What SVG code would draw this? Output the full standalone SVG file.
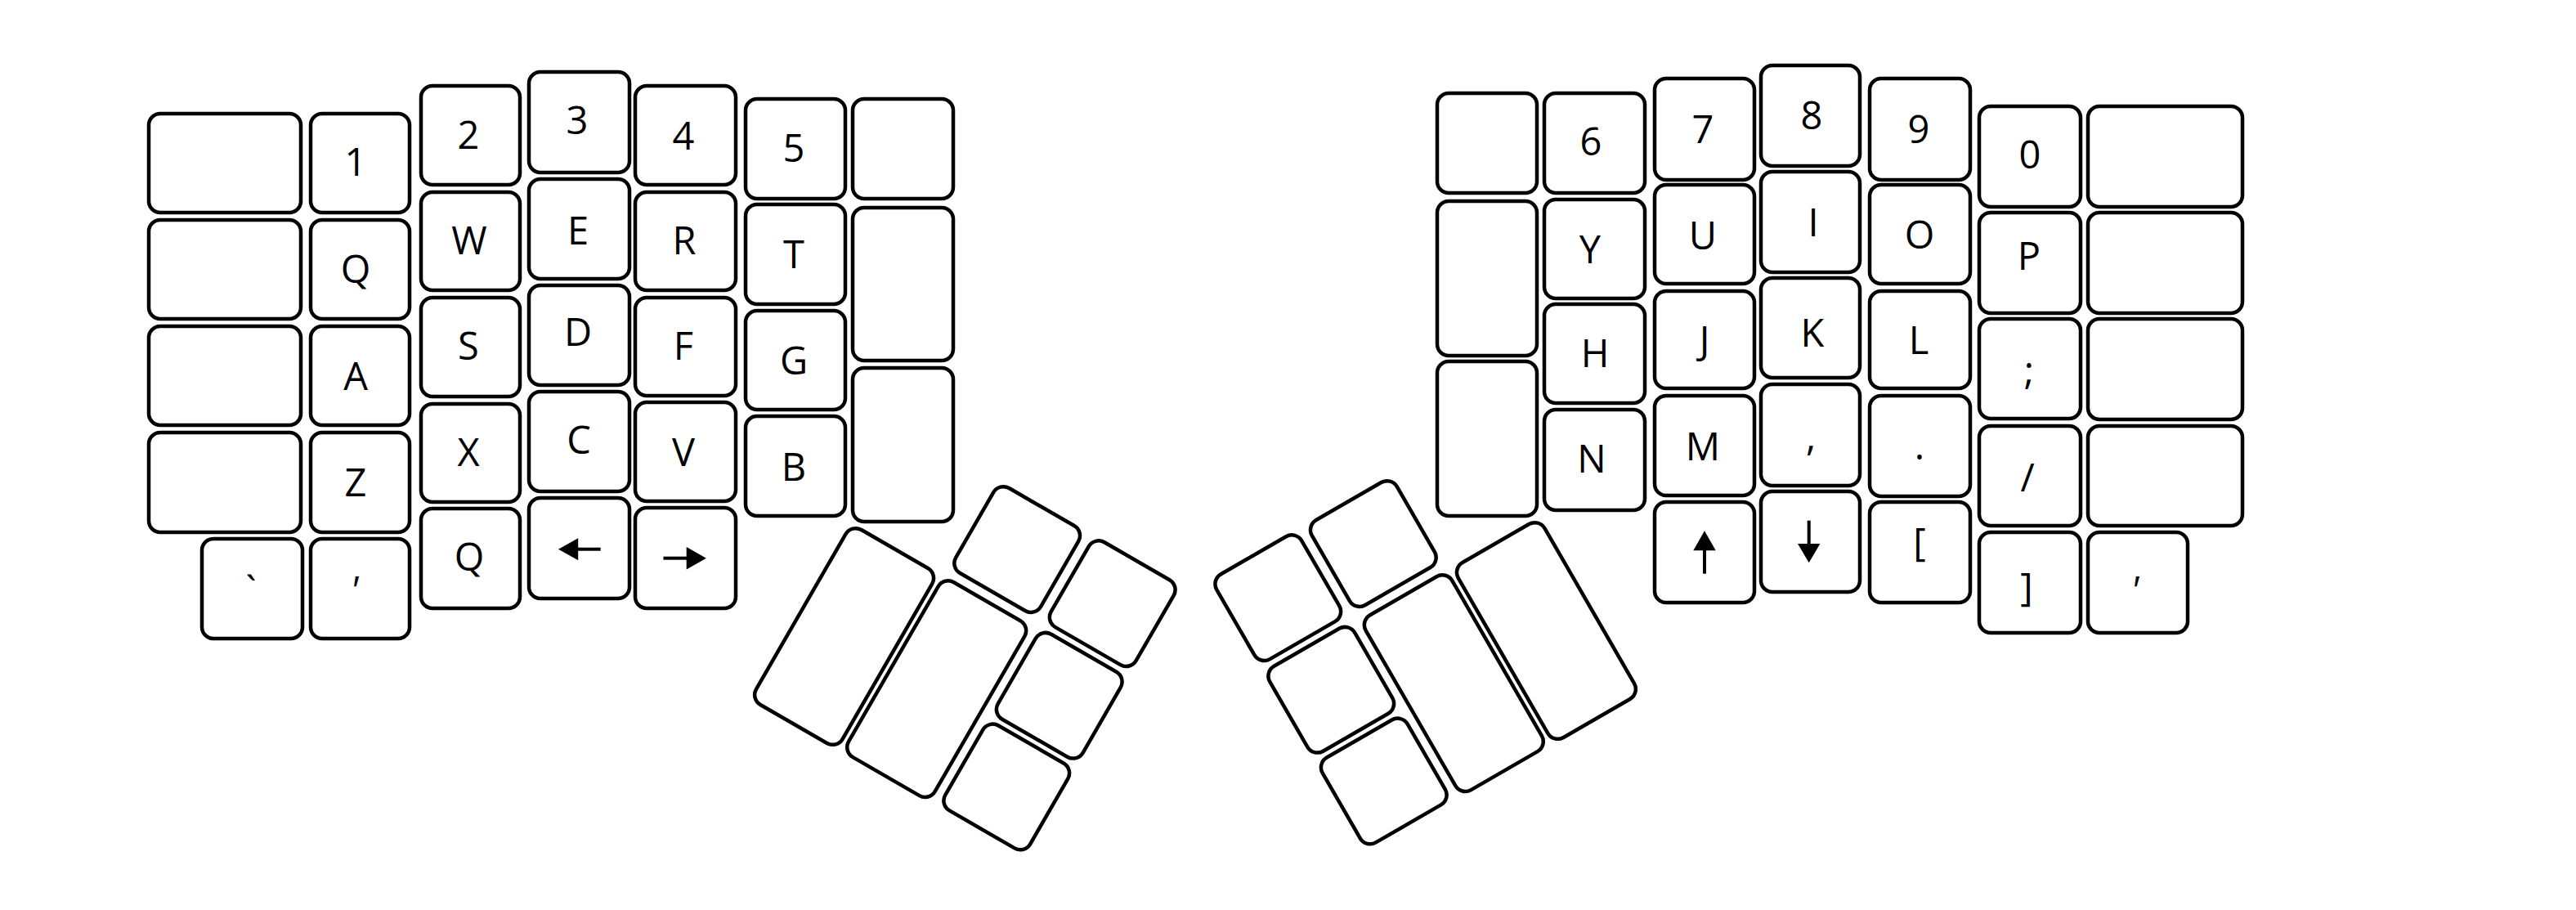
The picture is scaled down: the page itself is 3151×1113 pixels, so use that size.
<svg xmlns="http://www.w3.org/2000/svg" width="3151" height="1113" viewBox="0 0 3151 1113">
<style>
.k{fill:#fff;stroke:#000;stroke-width:4.5}
.l{font-family:"Open Sans","Noto Sans","Liberation Sans",sans-serif;font-size:47px;text-anchor:middle;fill:#000}
.i{font-style:italic}
.ar{stroke:#000;stroke-width:4;fill:none}
.ah{fill:#000}
</style>
<rect width="3151" height="1113" fill="#fff"/>
<g id="left-hand">
<g id="L-w1"><rect class="k" x="182" y="139" width="186" height="121" rx="14"/></g>
<g id="L-w2"><rect class="k" x="182" y="269" width="186" height="121" rx="14"/></g>
<g id="L-w3"><rect class="k" x="182" y="399" width="186" height="121" rx="14"/></g>
<g id="L-w4"><rect class="k" x="182" y="529" width="186" height="122" rx="14"/></g>
<g id="key-grave"><rect class="k" x="247" y="659" width="123" height="122" rx="14"/><text class="l" x="307" y="739">`</text></g>
<g id="key-1"><rect class="k" x="380" y="139" width="121" height="121" rx="14"/><text class="l" x="435" y="215">1</text></g>
<g id="key-Q"><rect class="k" x="380" y="269" width="121" height="121" rx="14"/><text class="l" x="435" y="346">Q</text></g>
<g id="key-A"><rect class="k" x="380" y="399" width="121" height="121" rx="14"/><text class="l" x="435" y="477">A</text></g>
<g id="key-Z"><rect class="k" x="380" y="529" width="121" height="122" rx="14"/><text class="l" x="435" y="607">Z</text></g>
<g id="key-quote-l"><rect class="k" x="380" y="659" width="121" height="122" rx="14"/><text class="l i" x="433" y="739">'</text></g>
<g id="key-2"><rect class="k" x="515" y="105" width="121" height="121" rx="14"/><text class="l" x="573" y="182">2</text></g>
<g id="key-W"><rect class="k" x="515" y="235" width="121" height="120" rx="14"/><text class="l" x="574" y="311">W</text></g>
<g id="key-S"><rect class="k" x="515" y="364" width="121" height="121" rx="14"/><text class="l" x="573" y="440">S</text></g>
<g id="key-X"><rect class="k" x="515" y="494" width="121" height="120" rx="14"/><text class="l" x="573" y="570">X</text></g>
<g id="key-Q2"><rect class="k" x="515" y="622" width="121" height="122" rx="14"/><text class="l" x="574" y="698">Q</text></g>
<g id="key-3"><rect class="k" x="647" y="88" width="123" height="123" rx="14"/><text class="l" x="706" y="164">3</text></g>
<g id="key-E"><rect class="k" x="647" y="219" width="123" height="122" rx="14"/><text class="l" x="707" y="299">E</text></g>
<g id="key-D"><rect class="k" x="647" y="349" width="123" height="122" rx="14"/><text class="l" x="707" y="423">D</text></g>
<g id="key-C"><rect class="k" x="647" y="479" width="123" height="122" rx="14"/><text class="l" x="708" y="555">C</text></g>
<g id="key-left"><rect class="k" x="647" y="609" width="123" height="123" rx="14"/><line class="ar" x1="706" y1="671.7" x2="734.7" y2="671.7"/><polygon class="ah" points="683,671.7 707.2,658.2 707.2,685.2"/></g>
<g id="key-4"><rect class="k" x="777" y="105" width="123" height="121" rx="14"/><text class="l" x="836" y="183">4</text></g>
<g id="key-R"><rect class="k" x="777" y="235" width="123" height="120" rx="14"/><text class="l" x="837" y="311">R</text></g>
<g id="key-F"><rect class="k" x="777" y="364" width="123" height="120" rx="14"/><text class="l" x="836" y="440">F</text></g>
<g id="key-V"><rect class="k" x="777" y="492" width="123" height="121" rx="14"/><text class="l" x="836" y="570">V</text></g>
<g id="key-right"><rect class="k" x="777" y="621" width="123" height="123" rx="14"/><line class="ar" x1="811.5" y1="682.7" x2="841" y2="682.7"/><polygon class="ah" points="863.9,682.7 839.7,669 839.7,696.4"/></g>
<g id="key-5"><rect class="k" x="912" y="121" width="122" height="122" rx="14"/><text class="l" x="971" y="198">5</text></g>
<g id="key-T"><rect class="k" x="912" y="250" width="122" height="122" rx="14"/><text class="l" x="971" y="328">T</text></g>
<g id="key-G"><rect class="k" x="912" y="380" width="122" height="121" rx="14"/><text class="l" x="971" y="458">G</text></g>
<g id="key-B"><rect class="k" x="912" y="509" width="122" height="122" rx="14"/><text class="l" x="971" y="588">B</text></g>
<g id="L-i1"><rect class="k" x="1043" y="121" width="123" height="122" rx="14"/></g>
<g id="L-i2"><rect class="k" x="1043" y="254" width="123" height="187" rx="14"/></g>
<g id="L-i3"><rect class="k" x="1043" y="450" width="123" height="188" rx="14"/></g>
</g>
<g id="left-thumb" transform="translate(1032.6,778.5) rotate(30)">
<g id="LT-a"><rect class="k" x="-61" y="-123.5" width="122" height="247" rx="14"/></g>
<g id="LT-b"><rect class="k" x="69" y="-124.5" width="122" height="247" rx="14"/></g>
<g id="LT-c"><rect class="k" x="70" y="-258" width="120" height="120" rx="14"/></g>
<g id="LT-d"><rect class="k" x="204" y="-259" width="120" height="120" rx="14"/></g>
<g id="LT-e"><rect class="k" x="204" y="-129" width="120" height="120" rx="14"/></g>
<g id="LT-f"><rect class="k" x="204" y="0" width="120" height="120" rx="14"/></g>
</g>
<g id="right-thumb" transform="translate(1891.4,771.5) scale(-1,1) rotate(30)">
<g id="RT-a"><rect class="k" x="-61" y="-123.5" width="122" height="247" rx="14"/></g>
<g id="RT-b"><rect class="k" x="69" y="-124.5" width="122" height="247" rx="14"/></g>
<g id="RT-c"><rect class="k" x="70" y="-258" width="120" height="120" rx="14"/></g>
<g id="RT-d"><rect class="k" x="204" y="-259" width="120" height="120" rx="14"/></g>
<g id="RT-e"><rect class="k" x="204" y="-129" width="120" height="120" rx="14"/></g>
<g id="RT-f"><rect class="k" x="204" y="0" width="120" height="120" rx="14"/></g>
</g>
<g id="right-hand">
<g id="R-i1"><rect class="k" x="1758" y="114" width="122" height="122" rx="14"/></g>
<g id="R-i2"><rect class="k" x="1758" y="246" width="122" height="189" rx="14"/></g>
<g id="R-i3"><rect class="k" x="1758" y="442" width="122" height="189" rx="14"/></g>
<g id="key-6"><rect class="k" x="1889" y="114" width="123" height="122" rx="14"/><text class="l" x="1946" y="190">6</text></g>
<g id="key-Y"><rect class="k" x="1889" y="244" width="123" height="121" rx="14"/><text class="l" x="1945" y="322">Y</text></g>
<g id="key-H"><rect class="k" x="1889" y="372" width="123" height="121" rx="14"/><text class="l" x="1951" y="449">H</text></g>
<g id="key-N"><rect class="k" x="1889" y="501" width="123" height="123" rx="14"/><text class="l" x="1947" y="578">N</text></g>
<g id="key-7"><rect class="k" x="2024" y="96" width="122" height="124" rx="14"/><text class="l" x="2083" y="175">7</text></g>
<g id="key-U"><rect class="k" x="2024" y="226" width="122" height="121" rx="14"/><text class="l" x="2083" y="305">U</text></g>
<g id="key-J"><rect class="k" x="2024" y="356" width="122" height="119" rx="14"/><text class="l" x="2085" y="433">J</text></g>
<g id="key-M"><rect class="k" x="2024" y="484" width="122" height="122" rx="14"/><text class="l" x="2083" y="563">M</text></g>
<g id="key-up"><rect class="k" x="2024" y="614" width="122" height="123" rx="14"/><line class="ar" x1="2085" y1="672" x2="2085" y2="701.7"/><polygon class="ah" points="2085,649.3 2071.3,673.3 2098.7,673.3"/></g>
<g id="key-8"><rect class="k" x="2154" y="80" width="121" height="123" rx="14"/><text class="l" x="2216" y="158">8</text></g>
<g id="key-I"><rect class="k" x="2154" y="210" width="121" height="123" rx="14"/><text class="l" x="2218" y="289">I</text></g>
<g id="key-K"><rect class="k" x="2154" y="340" width="121" height="122" rx="14"/><text class="l" x="2217" y="424">K</text></g>
<g id="key-comma"><rect class="k" x="2154" y="470" width="121" height="124" rx="14"/><text class="l" x="2215" y="551">,</text></g>
<g id="key-down"><rect class="k" x="2154" y="601" width="121" height="123" rx="14"/><line class="ar" x1="2212.7" y1="636.7" x2="2212.7" y2="666"/><polygon class="ah" points="2212.7,688.3 2199,665 2226.4,665"/></g>
<g id="key-9"><rect class="k" x="2287" y="96" width="123" height="124" rx="14"/><text class="l" x="2347" y="175">9</text></g>
<g id="key-O"><rect class="k" x="2287" y="226" width="123" height="121" rx="14"/><text class="l" x="2348" y="304">O</text></g>
<g id="key-L"><rect class="k" x="2287" y="356" width="123" height="119" rx="14"/><text class="l" x="2347" y="433">L</text></g>
<g id="key-period"><rect class="k" x="2287" y="484" width="123" height="123" rx="14"/><text class="l" x="2348" y="562">.</text></g>
<g id="key-lbracket"><rect class="k" x="2287" y="614" width="123" height="123" rx="14"/><text class="l" x="2348" y="680">[</text></g>
<g id="key-0"><rect class="k" x="2421" y="130" width="124" height="123" rx="14"/><text class="l" x="2483" y="206">0</text></g>
<g id="key-P"><rect class="k" x="2421" y="260" width="124" height="123" rx="14"/><text class="l" x="2482" y="330">P</text></g>
<g id="key-semicolon"><rect class="k" x="2421" y="390" width="124" height="122" rx="14"/><text class="l" x="2482" y="470">;</text></g>
<g id="key-slash"><rect class="k" x="2421" y="521" width="124" height="122" rx="14"/><text class="l" x="2480" y="601">/</text></g>
<g id="key-rbracket"><rect class="k" x="2421" y="651" width="124" height="123" rx="14"/><text class="l" x="2479" y="735">]</text></g>
<g id="R-w1"><rect class="k" x="2554" y="130" width="189" height="123" rx="14"/></g>
<g id="R-w2"><rect class="k" x="2554" y="260" width="189" height="123" rx="14"/></g>
<g id="R-w3"><rect class="k" x="2554" y="390" width="189" height="123" rx="14"/></g>
<g id="R-w4"><rect class="k" x="2554" y="521" width="189" height="122" rx="14"/></g>
<g id="key-quote-r"><rect class="k" x="2554" y="651" width="122" height="123" rx="14"/><text class="l i" x="2611" y="739">'</text></g>
</g>
<g id="connectors"/>
</svg>
